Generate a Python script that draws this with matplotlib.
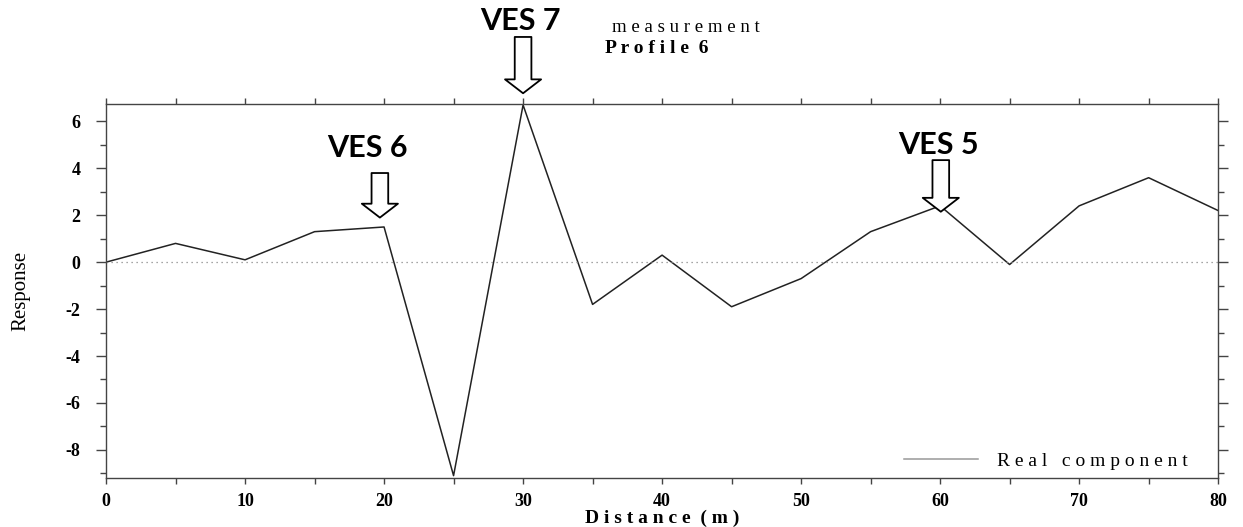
import matplotlib.pyplot as plt
from matplotlib.ticker import MultipleLocator

plt.rcParams["axes.unicode_minus"] = False

# profile 6 readings
distance = [0, 5, 10, 15, 20, 25, 30, 35, 40, 45, 50, 55, 60, 65, 70, 75, 80]
response = [0.0, 0.8, 0.1, 1.3, 1.5, -9.1, 6.7, -1.8, 0.3, -1.9, -0.7, 1.3, 2.4, -0.1, 2.4, 3.6, 2.2]

ves_labels = ["VES 6", "VES 7", "VES 5"]
ves_x = [19.7, 30.0, 60.05]
ves_tip = [1.9, 7.2, 2.15]
ves_tail = [3.8, 9.6, 4.35]
ves_text_x = [18.8, 29.8, 59.9]
ves_text_y = [4.85, 10.3, 5.0]

serif = "Liberation Serif"

fig = plt.figure(figsize=(12.43, 5.27), dpi=100)
ax = fig.add_axes([0.0853, 0.093, 0.8947, 0.710])

ax.plot(distance, response, color="#222222", lw=1.1, label="R e a l   c o m p o n e n t")
ax.axhline(0, color="#888888", lw=0.9, ls=(0, (1, 3)))

ax.set_xlim(0, 80)
ax.set_ylim(-9.2, 6.75)
ax.xaxis.set_major_locator(MultipleLocator(10))
ax.xaxis.set_minor_locator(MultipleLocator(5))
ax.yaxis.set_major_locator(MultipleLocator(2))
ax.yaxis.set_minor_locator(MultipleLocator(1))
ax.tick_params(which="both", direction="out", top=True, right=True, width=1, color="#444444")
ax.tick_params(axis="x", which="both", length=4.5, pad=6)
ax.tick_params(axis="y", which="major", length=7.5, pad=11)
ax.tick_params(axis="y", which="minor", length=4.5)
ax.tick_params(labelsize=13)
for lab in ax.get_xticklabels() + ax.get_yticklabels():
    lab.set_fontfamily(serif)
    lab.set_fontweight("bold")
for s in ax.spines.values():
    s.set_color("#444444")
    s.set_linewidth(1)

ax.set_xlabel("D i s t a n c e  ( m )", fontfamily=serif, fontweight="bold", fontsize=14, labelpad=0)
ax.set_ylabel("Response", fontfamily=serif, fontsize=15, labelpad=25)

leg = ax.legend(loc="lower right", bbox_to_anchor=(0.98, 0.0), frameon=False, handlelength=3.8,
                handletextpad=1.0, borderaxespad=0, prop={"family": serif, "size": 14})
leg.get_lines()[0].set_color("#999999")

for lab, x, tip, tail, tx, ty in zip(ves_labels, ves_x, ves_tip, ves_tail, ves_text_x, ves_text_y):
    ax.annotate("", xy=(x, tip), xytext=(x, tail), annotation_clip=False,
                arrowprops=dict(arrowstyle="simple,head_width=2.6,head_length=1.0,tail_width=1.2",
                                fc="white", ec="black", lw=1.3, shrinkA=0, shrinkB=0))
    ax.text(tx, ty, lab, ha="center", va="center", fontsize=22,
            fontweight="bold", fontfamily="Lato", clip_on=False)

fig.text(0.492, 0.948, "m e a s u r e m e n t", fontfamily=serif, fontsize=13.5, va="center")
fig.text(0.487, 0.908, "P r o f i l e  6", fontfamily=serif, fontsize=14, fontweight="bold", va="center")

fig.savefig("out.png", dpi=100)
